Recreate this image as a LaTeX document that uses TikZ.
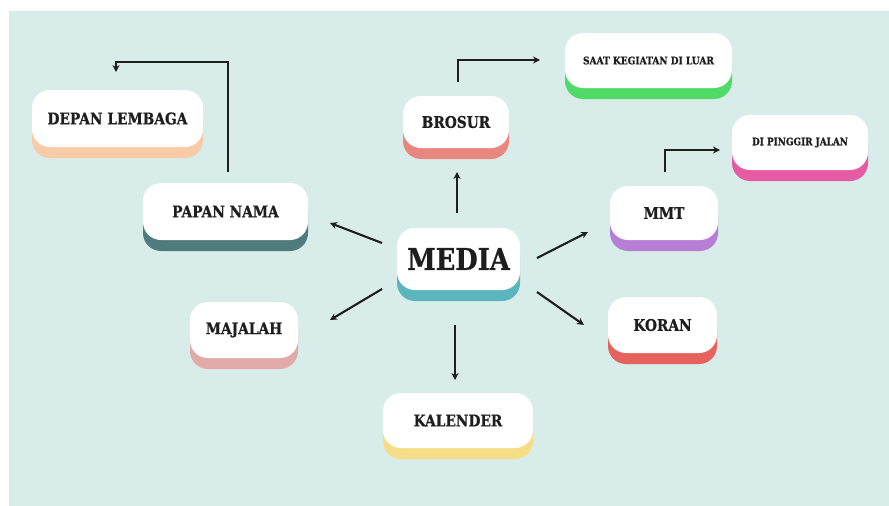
\documentclass[tikz,border=0pt]{standalone}
\usepackage{fontspec}
\newfontfamily\slabfont[FakeStretch=0.86,BoldFeatures={FakeBold=0.8}]{DejaVu Serif}
\usetikzlibrary{arrows.meta,calc}

\definecolor{bgcol}{HTML}{D8ECEA}
\definecolor{inkcol}{HTML}{1E1E1E}
\definecolor{peach}{HTML}{F8CBA6}
\definecolor{tealdark}{HTML}{4E7B7B}
\definecolor{salmon}{HTML}{E8877F}
\definecolor{greenish}{HTML}{4FDB66}
\definecolor{pinkish}{HTML}{E65BA3}
\definecolor{purplish}{HTML}{B77ED6}
\definecolor{redish}{HTML}{E6625C}
\definecolor{tealmid}{HTML}{5AB5BD}
\definecolor{rosy}{HTML}{E2ABAA}
\definecolor{yellowish}{HTML}{F7DE86}

\tikzset{
  cardbase/.style={rounded corners=18pt, inner sep=0pt, draw=none},
  cardtop/.style={rounded corners=18pt, inner sep=0pt, fill=white, draw=none, text=inkcol},
  arr/.style={draw=inkcol, line width=2.1pt, -{Stealth[length=7pt,width=7pt]}},
}

% #1 name, #2 cx, #3 cy, #4 width, #5 height, #6 colour, #7 font size, #8 label
\newcommand\mapcard[8]{%
  \node[cardbase, fill=#6, minimum width=#4pt, minimum height=#5pt] at (#2,#3+11) {};
  \node[cardtop, minimum width=#4pt, minimum height=#5pt,
        font=\slabfont\bfseries\fontsize{#7}{#7}\selectfont] (#1) at (#2,#3) {#8};
}

\begin{document}
\begin{tikzpicture}[x=1pt,y=-1pt]
  \useasboundingbox (0,0) rectangle (889,506);
  \fill[white] (0,0) rectangle (889,506);
  \fill[bgcol] (9,11) rectangle (889,506);

  % cards
  \mapcard{depan}{117.5}{118.5}{171}{57}{peach}{16}{DEPAN LEMBAGA}
  \mapcard{papan}{225.5}{211.5}{165}{57}{tealdark}{16}{PAPAN NAMA}
  \mapcard{brosur}{456}{122}{106}{52}{salmon}{16}{BROSUR}
  \mapcard{saat}{648.5}{60.5}{167}{55}{greenish}{10.5}{SAAT KEGIATAN DI LUAR}
  \mapcard{pinggir}{800}{142.5}{136}{55}{pinkish}{10.3}{DI PINGGIR JALAN}
  \mapcard{mmt}{664}{213}{108}{54}{purplish}{16}{MMT}
  \mapcard{koran}{662.5}{325}{109}{56}{redish}{16}{KORAN}
  \mapcard{media}{458.5}{259}{123}{62}{tealmid}{30}{MEDIA}
  \mapcard{majalah}{244}{330}{108}{56}{rosy}{16}{MAJALAH}
  \mapcard{kalender}{458}{420.5}{150}{55}{yellowish}{16}{KALENDER}

  % connector end points
  \coordinate (m-up)  at (457,213);
  \coordinate (b-dn)  at (457,172);
  \coordinate (m-pl)  at (382,243);
  \coordinate (p-r)   at (330,223);
  \coordinate (m-ml)  at (382,289);
  \coordinate (j-r)   at (330,320);
  \coordinate (m-dn)  at (455,325);
  \coordinate (k-up)  at (455,380);
  \coordinate (m-mr)  at (537,258);
  \coordinate (t-l)   at (588,232);
  \coordinate (m-kr)  at (537,292);
  \coordinate (r-l)   at (584,325);
  \coordinate (p-up)  at (228,172);
  \coordinate (d-up)  at (116,72);
  \coordinate (b-up)  at (458,82);
  \coordinate (s-l)   at (540,60);
  \coordinate (t-up)  at (665,172);
  \coordinate (g-l)   at (720,150);

  % connectors
  \draw[arr] (m-up) -- (b-dn);
  \draw[arr] (m-pl) -- (p-r);
  \draw[arr] (m-ml) -- (j-r);
  \draw[arr] (m-dn) -- (k-up);
  \draw[arr] (m-mr) -- (t-l);
  \draw[arr] (m-kr) -- (r-l);
  \draw[arr] (p-up) |- (116,62) -- (d-up);
  \draw[arr] (b-up) |- (s-l);
  \draw[arr] (t-up) |- (g-l);
\end{tikzpicture}
\end{document}
